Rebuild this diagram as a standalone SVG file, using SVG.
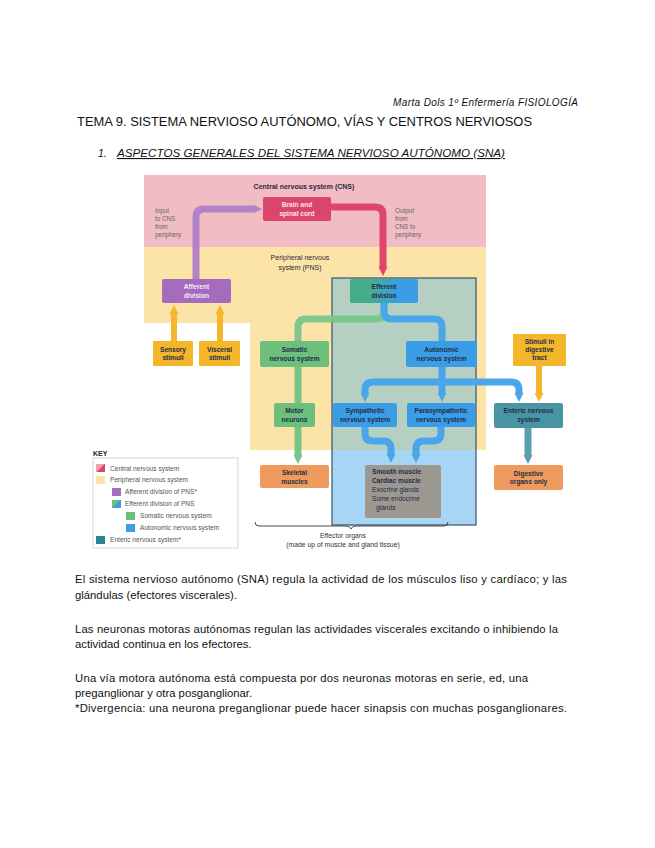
<svg xmlns="http://www.w3.org/2000/svg" width="655" height="848" viewBox="0 0 655 848">
<defs>
<style>
text{font-family:"Liberation Sans",Arial,sans-serif}
.doc{font-size:11.3px;fill:#111}
.lbl{font-size:6.6px;font-weight:bold;fill:#1f2d4a;text-anchor:middle}
.note{font-size:6.3px;fill:#666}
.key{font-size:6.6px;fill:#555}
.ln{fill:none;stroke-linecap:butt;stroke-linejoin:round}
</style>
<marker id="hPur" viewBox="0 0 10 10" refX="0" refY="5" markerUnits="userSpaceOnUse" markerWidth="9" markerHeight="13" orient="auto"><path d="M0,0L10,5L0,10z" fill="#b383c7"/></marker>
<marker id="hRed" viewBox="0 0 10 10" refX="0" refY="5" markerUnits="userSpaceOnUse" markerWidth="9" markerHeight="13" orient="auto"><path d="M0,0L10,5L0,10z" fill="#e0456a"/></marker>
<marker id="hGrn" viewBox="0 0 10 10" refX="0" refY="5" markerUnits="userSpaceOnUse" markerWidth="9" markerHeight="13" orient="auto"><path d="M0,0L10,5L0,10z" fill="#78c589"/></marker>
<marker id="hBlu" viewBox="0 0 10 10" refX="0" refY="5" markerUnits="userSpaceOnUse" markerWidth="9" markerHeight="13" orient="auto"><path d="M0,0L10,5L0,10z" fill="#49a6ea"/></marker>
<marker id="hGld" viewBox="0 0 10 10" refX="0" refY="5" markerUnits="userSpaceOnUse" markerWidth="9" markerHeight="13" orient="auto"><path d="M0,0L10,5L0,10z" fill="#f4b62b"/></marker>
<marker id="hTel" viewBox="0 0 10 10" refX="0" refY="5" markerUnits="userSpaceOnUse" markerWidth="9" markerHeight="13" orient="auto"><path d="M0,0L10,5L0,10z" fill="#5a9fb0"/></marker>
<linearGradient id="gEff" x1="0" y1="0" x2="1" y2="0"><stop offset="0.3" stop-color="#45ad8c"/><stop offset="0.7" stop-color="#3b9de6"/></linearGradient>
<linearGradient id="gCns" x1="0" y1="0" x2="1" y2="1"><stop offset="0.5" stop-color="#f1a0b0"/><stop offset="0.5" stop-color="#d9466a"/></linearGradient>
<linearGradient id="gEffK" x1="0" y1="0" x2="1" y2="1"><stop offset="0.5" stop-color="#6cc07c"/><stop offset="0.5" stop-color="#3b9de6"/></linearGradient>
</defs>

<!-- page text -->
<text x="578" y="106" font-size="10" font-style="italic" fill="#111" text-anchor="end" textLength="185" lengthAdjust="spacing">Marta Dols 1º Enfermería FISIOLOGÍA</text>
<text x="77" y="126" font-size="12.5" fill="#111" textLength="455" lengthAdjust="spacingAndGlyphs">TEMA 9. SISTEMA NERVIOSO AUTÓNOMO, VÍAS Y CENTROS NERVIOSOS</text>
<text x="98" y="157" font-size="10.5" font-style="italic" fill="#111">1.</text>
<text x="117" y="157" font-size="11" font-style="italic" fill="#111" text-decoration="underline" textLength="388" lengthAdjust="spacingAndGlyphs">ASPECTOS GENERALES DEL SISTEMA NERVIOSO AUTÓNOMO (SNA)</text>

<!-- regions -->
<g id="cns-region">
<rect x="144" y="175" width="342" height="72" fill="#f1bcc4"/>
<text x="304" y="189" font-size="7" font-weight="bold" fill="#2a2a3a" text-anchor="middle">Central nervous system (CNS)</text>
<text class="note" x="155" y="213">Input</text>
<text class="note" x="155" y="221">to CNS</text>
<text class="note" x="155" y="229">from</text>
<text class="note" x="155" y="237">periphery</text>
<text class="note" x="395" y="213">Output</text>
<text class="note" x="395" y="221">from</text>
<text class="note" x="395" y="229">CNS to</text>
<text class="note" x="395" y="237">periphery</text>
</g>
<g id="pns-region">
<path d="M144,247H486V450H250V323H144Z" fill="#fce3a8"/>
<text x="300" y="260" font-size="7" fill="#2a2a3a" text-anchor="middle">Peripheral nervous</text>
<text x="300" y="270" font-size="7" fill="#2a2a3a" text-anchor="middle">system (PNS)</text>
</g>
<g id="efferent-region">
<rect x="332" y="278" width="144" height="247" fill="#a9d5f4"/>
<rect x="332" y="278" width="144" height="172" fill="#b5d0c3"/>
<rect x="332" y="278" width="144" height="247" fill="none" stroke="#34546b" stroke-width="1.2"/>
</g>

<!-- connectors -->
<g id="connectors" class="ln">
<path d="M196,279V217Q196,209 204,209H253" stroke="#b383c7" stroke-width="7" fill="none" marker-end="url(#hPur)"/>
<path d="M331,207H375Q383,207 383,215V267" stroke="#e0456a" stroke-width="7" fill="none" marker-end="url(#hRed)"/>
<path d="M384,303V311Q384,319 376,319H306Q298,319 298,327V341" stroke="#78c589" stroke-width="7" fill="none" opacity="0.95"/>
<path d="M384,303V311Q384,319 392,319H434Q442,319 442,327V341" stroke="#49a6ea" stroke-width="7" fill="none"/>
<path d="M298,367V403" stroke="#78c589" stroke-width="7" fill="none"/>
<path d="M298,427V455" stroke="#78c589" stroke-width="7" fill="none" marker-end="url(#hGrn)"/>
<path d="M442,367V393" stroke="#49a6ea" stroke-width="7" fill="none" marker-end="url(#hBlu)"/>
<path d="M442,382H373Q365,382 365,390V393" stroke="#49a6ea" stroke-width="7" fill="none" marker-end="url(#hBlu)"/>
<path d="M442,382H511Q519,382 519,390V393" stroke="#49a6ea" stroke-width="7" fill="none" marker-end="url(#hBlu)"/>
<path d="M365,427V433Q365,441 373,441H383Q391,441 391,449V454" stroke="#49a6ea" stroke-width="7" fill="none" marker-end="url(#hBlu)"/>
<path d="M441,427V433Q441,441 433,441H424Q416,441 416,449V454" stroke="#49a6ea" stroke-width="7" fill="none" marker-end="url(#hBlu)"/>
<path d="M174,341V314" stroke="#f4b62b" stroke-width="6" fill="none" marker-end="url(#hGld)"/>
<path d="M220,341V314" stroke="#f4b62b" stroke-width="6" fill="none" marker-end="url(#hGld)"/>
<path d="M539,366V393" stroke="#f4b62b" stroke-width="6" fill="none" marker-end="url(#hGld)"/>
<path d="M528,428V455" stroke="#5a9fb0" stroke-width="7" fill="none" marker-end="url(#hTel)"/>
</g>

<!-- nodes -->
<g id="brain">
<rect x="263" y="197" width="68" height="24" rx="2" fill="#d9466a"/>
<text class="lbl" x="297" y="207" style="fill:#fde3ea">Brain and</text>
<text class="lbl" x="297" y="215.5" style="fill:#fde3ea">spinal cord</text>
</g>
<g id="afferent">
<rect x="162" y="279" width="69" height="24" rx="2" fill="#a56bbd"/>
<text class="lbl" x="196.5" y="289" style="fill:#f5eaf8">Afferent</text>
<text class="lbl" x="196.5" y="297.5" style="fill:#f5eaf8">division</text>
</g>
<g id="efferent">
<rect x="350" y="279" width="68" height="24" rx="2" fill="url(#gEff)"/>
<text class="lbl" x="384" y="289">Efferent</text>
<text class="lbl" x="384" y="297.5">division</text>
</g>
<g id="sensory">
<rect x="153" y="341" width="40" height="25" rx="1" fill="#f4b62b"/>
<text class="lbl" x="173" y="351.5">Sensory</text>
<text class="lbl" x="173" y="360">stimuli</text>
</g>
<g id="visceral">
<rect x="199" y="341" width="41" height="25" rx="1" fill="#f4b62b"/>
<text class="lbl" x="219.5" y="351.5">Visceral</text>
<text class="lbl" x="219.5" y="360">stimuli</text>
</g>
<g id="somatic">
<rect x="260" y="341" width="69" height="26" rx="2" fill="#6cc07c"/>
<text class="lbl" x="294.5" y="351.5">Somatic</text>
<text class="lbl" x="294.5" y="360.5">nervous system</text>
</g>
<g id="autonomic">
<rect x="406" y="341" width="71" height="26" rx="2" fill="#3b9de6"/>
<text class="lbl" x="441.5" y="351.5">Autonomic</text>
<text class="lbl" x="441.5" y="360.5">nervous system</text>
</g>
<g id="stimuli-digestive">
<rect x="513" y="334" width="53" height="32" rx="1" fill="#f4b62b"/>
<text class="lbl" x="539.5" y="343.5">Stimuli in</text>
<text class="lbl" x="539.5" y="351.5">digestive</text>
<text class="lbl" x="539.5" y="359.5">tract</text>
</g>
<g id="motor">
<rect x="274" y="403" width="41" height="24" rx="2" fill="#6cc07c"/>
<text class="lbl" x="294.5" y="413">Motor</text>
<text class="lbl" x="294.5" y="421.5">neurons</text>
</g>
<g id="sympathetic">
<rect x="333" y="403" width="64" height="24" rx="2" fill="#3b9de6"/>
<text class="lbl" x="365" y="413">Sympathetic</text>
<text class="lbl" x="365" y="421.5">nervous system</text>
</g>
<g id="parasympathetic">
<rect x="407" y="403" width="68" height="24" rx="2" fill="#3b9de6"/>
<text class="lbl" x="441" y="413">Parasympathetic</text>
<text class="lbl" x="441" y="421.5">nervous system</text>
</g>
<g id="enteric">
<rect x="494" y="403" width="69" height="25" rx="2" fill="#4a95a5"/>
<text class="lbl" x="528.5" y="413">Enteric nervous</text>
<text class="lbl" x="528.5" y="421.5">system</text>
</g>
<g id="skeletal">
<rect x="260" y="465" width="69" height="23" rx="2" fill="#ef9b5d"/>
<text class="lbl" x="294.5" y="475">Skeletal</text>
<text class="lbl" x="294.5" y="483.5">muscles</text>
</g>
<g id="smooth">
<rect x="365" y="465" width="76" height="53" rx="2" fill="#9c978f"/>
<text class="lbl" x="372" y="474" style="text-anchor:start">Smooth muscle</text>
<text class="lbl" x="372" y="483" style="text-anchor:start">Cardiac muscle</text>
<text class="lbl" x="372" y="492" style="text-anchor:start;font-weight:normal">Exocrine glands</text>
<text class="lbl" x="372" y="501" style="text-anchor:start;font-weight:normal">Some endocrine</text>
<text class="lbl" x="376" y="510" style="text-anchor:start;font-weight:normal">glands</text>
</g>
<g id="digestive">
<rect x="494" y="465" width="69" height="25" rx="2" fill="#ef9b5d"/>
<text class="lbl" x="528.5" y="475.5">Digestive</text>
<text class="lbl" x="528.5" y="484">organs only</text>
</g>
<g id="effector-brace">
<path d="M255,522Q255,526 259,526H346Q350,526 351,529Q352,526 356,526H444Q448,526 448,522" fill="none" stroke="#333" stroke-width="0.9"/>
<text x="343" y="538" font-size="6.8" fill="#333" text-anchor="middle">Effector organs</text>
<text x="343" y="547" font-size="6.8" fill="#333" text-anchor="middle">(made up of muscle and gland tissue)</text>
</g>

<!-- key -->
<g id="key">
<text x="93" y="456" font-size="7" font-weight="bold" fill="#222">KEY</text>
<rect x="93" y="458" width="145" height="90" fill="#fff" stroke="#ccc" stroke-width="0.8"/>
<rect x="96" y="464" width="9" height="8" fill="url(#gCns)"/>
<text class="key" x="110" y="470.5">Central nervous system</text>
<rect x="96" y="476" width="9" height="8" fill="#fce3a8"/>
<text class="key" x="110" y="482">Peripheral nervous system</text>
<rect x="112" y="488" width="9" height="8" fill="#a56bbd"/>
<text class="key" x="125" y="494">Afferent division of PNS*</text>
<rect x="112" y="500" width="9" height="8" fill="url(#gEffK)"/>
<text class="key" x="125" y="506">Efferent division of PNS</text>
<rect x="126" y="512" width="9" height="8" fill="#6cc07c"/>
<text class="key" x="140" y="518">Somatic nervous system</text>
<rect x="126" y="524" width="9" height="8" fill="#3b9de6"/>
<text class="key" x="140" y="530">Autonomic nervous system</text>
<rect x="96" y="536" width="9" height="8" fill="#2a8293"/>
<text class="key" x="110" y="542">Enteric nervous system*</text>
</g>

<!-- body text -->
<text class="doc" x="75" y="583" textLength="492" lengthAdjust="spacing">El sistema nervioso autónomo (SNA) regula la actividad de los músculos liso y cardíaco; y las</text>
<text class="doc" x="75" y="599">glándulas (efectores viscerales).</text>
<text class="doc" x="75" y="633" textLength="483" lengthAdjust="spacing">Las neuronas motoras autónomas regulan las actividades viscerales excitando o inhibiendo la</text>
<text class="doc" x="75" y="648">actividad continua en los efectores.</text>
<text class="doc" x="75" y="682" textLength="453" lengthAdjust="spacing">Una vía motora autónoma está compuesta por dos neuronas motoras en serie, ed, una</text>
<text class="doc" x="75" y="697">preganglionar y otra posganglionar.</text>
<text class="doc" x="75" y="712" textLength="492" lengthAdjust="spacing">*Divergencia: una neurona preganglionar puede hacer sinapsis con muchas posganglionares.</text>
</svg>
